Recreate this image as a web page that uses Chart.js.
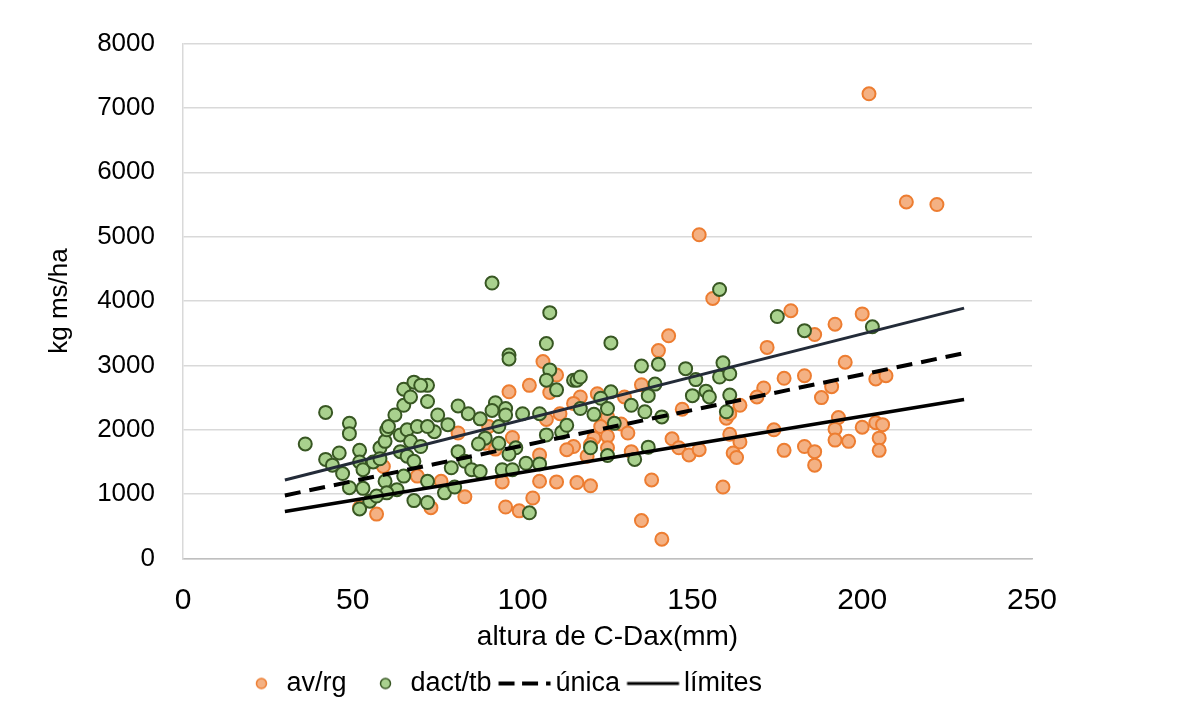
<!DOCTYPE html>
<html><head><meta charset="utf-8">
<script src="https://cdn.jsdelivr.net/npm/chart.js@4/dist/chart.umd.min.js"></script>
<style>html,body{margin:0;padding:0;background:#fff;}#wrap{width:1177px;height:719px;}</style>
</head><body><div id="wrap"><canvas id="c" width="1177" height="719"></canvas></div>
<script>
// av/rg series
const avX = [202,213,222,152,156,179,200,192,186,143,140,172,195,106,110,102,96,108,135,177,183,204,207,171,191,188,169,164,117,122,130,115,147,125,123,129,131,121,125,120,115,113,125,132,144,146,149,152,119,116,120,138,135,141,160,174,193,192,192,196,161,164,162,163,177,183,186,186,159,161,200,204,206,205,205,107,111,97,89,81,105,105,110,94,83,95,99,103,73,76,59,57,69,52,90,92];
const avY = [7220,5540,5500,5030,4040,3850,3800,3640,3480,3460,3230,3280,3050,3060,2850,2690,2590,2580,2700,2800,2840,2790,2840,2650,2670,2500,2510,2380,2510,2560,2510,2410,2320,2200,2050,2090,1950,1870,1900,1770,1740,1690,1720,1660,1860,1720,1610,1690,1590,1180,1130,1220,590,300,2180,2000,2190,2010,1840,1820,1930,1810,1640,1570,1680,1740,1660,1450,1110,2250,2040,2110,2080,1870,1680,2160,2250,1880,1790,1950,1610,1200,1190,1190,960,800,740,940,790,1200,1430,690,1280,790,2050,1700];
// dact/tb series
const dtX = [91,108,107,96,96,108,107,110,115,72,72,81,92,84,91,95,95,87.5,100,105,75,78,74,93,89,87,93,107,111.5,113,98,96,81,79,83,85,87.5,101,105,94,97,72,77,80,72,102,42,36,49,49,46,42,44,52,52,53,47,49,53,52,55,56,58,59.5,60,60.5,62.4,65,65,68,70,67,64,66,69,72,67,70,64,66,68,58,59.5,65,63,60,57,68,126,135,140,148,116,117,151,139,126,137,150,154,123,117,125,132,136,121,141,127,120,125,133,137,158,175,183,159,158,161,155,161,160,203];
const dtY = [4280,3820,3340,3160,3100,2930,2770,2620,2770,2690,2440,2370,2420,2250,2300,2330,2230,2170,2250,2250,2230,2080,1970,2050,1870,1780,1790,1920,1960,2070,1720,1620,1660,1410,1510,1380,1350,1480,1470,1380,1380,1200,1020,1110,870,710,2270,1780,2100,1940,1640,1540,1450,1680,1500,1380,1320,1100,1090,770,890,1500,1720,1820,2000,2050,2230,2380,2630,2740,2690,2510,1920,2000,2050,2050,1820,1740,1660,1590,1510,1550,1200,1280,1070,1020,970,900,3350,2990,3020,2950,2770,2820,2780,2710,2590,2530,2530,2600,2490,2330,2330,2380,2280,2240,2200,2100,1720,1600,1540,1730,4180,3760,3540,3040,2820,2870,2510,2540,2280,3600];
// lines
const unicaX = [30, 230];
const unicaY = [980, 3190];
const limSupX = [30, 230];
const limSupY = [1220, 3890];
const limInfX = [30, 230];
const limInfY = [730, 2470];
// axes
const xTicks = [0, 50, 100, 150, 200, 250];
const yTicks = [0, 1000, 2000, 3000, 4000, 5000, 6000, 7000, 8000];
const seriesNames = ['av/rg', 'dact/tb', 'única', 'límites'];
const xTitle = 'altura de C-Dax(mm)';
const yTitle = 'kg ms/ha';

const pts = (xs, ys) => xs.map((x, i) => ({x: x, y: ys[i]}));

function legendImg(kind) {
  const c = document.createElement('canvas');
  c.width = 80; c.height = 24;
  const g = c.getContext('2d');
  if (kind === 'av' || kind === 'dt') {
    g.beginPath();
    g.arc(48.5, 12, 5, 0, Math.PI * 2);
    g.fillStyle = kind === 'av' ? '#F4B183' : '#A9D18E';
    g.strokeStyle = kind === 'av' ? '#ED7D31' : '#385723';
    g.lineWidth = 1.5;
    g.fill(); g.stroke();
  } else if (kind === 'un') {
    g.strokeStyle = '#000'; g.lineWidth = 4; g.lineCap = 'butt';
    [[16.5, 32.5], [40, 56], [64, 68.5]].forEach(s => { g.beginPath(); g.moveTo(s[0], 12); g.lineTo(s[1], 12); g.stroke(); });
  } else {
    g.strokeStyle = '#000'; g.lineWidth = 3;
    g.beginPath(); g.moveTo(16.5, 12); g.lineTo(68.5, 12); g.stroke();
  }
  return c;
}
const legImgs = [legendImg('av'), legendImg('dt'), legendImg('un'), legendImg('lim')];

Chart.defaults.font.family = "'Liberation Sans', Arial, sans-serif";
Chart.defaults.color = '#000';

const legendShift = {
  id: 'legendShift',
  afterLayout(chart) { if (chart.legend) { chart.legend.right -= 37; } }
};

new Chart(document.getElementById('c'), {
  type: 'scatter',
  data: {
    datasets: [
      {label: seriesNames[0], data: pts(avX, avY), backgroundColor: '#F4B183', borderColor: '#ED7D31', borderWidth: 2, pointRadius: 6.5, order: 4},
      {label: seriesNames[1], data: pts(dtX, dtY), backgroundColor: '#A9D18E', borderColor: '#385723', borderWidth: 2, pointRadius: 6.5, order: 3},
      {label: seriesNames[2], data: pts(unicaX, unicaY), showLine: true, borderColor: '#000', borderWidth: 4, borderDash: [16, 9], pointRadius: 0, order: 0},
      {label: seriesNames[3], data: pts(limSupX, limSupY), showLine: true, borderColor: '#232B38', borderWidth: 3, pointRadius: 0, order: 1},
      {label: seriesNames[3] + ' inf', data: pts(limInfX, limInfY), showLine: true, borderColor: '#000', borderWidth: 3.5, pointRadius: 0, order: 1}
    ]
  },
  plugins: [legendShift],
  options: {
    responsive: false,
    animation: false,
    devicePixelRatio: 1,
    layout: {padding: {top: 39, right: 145, bottom: 12, left: 0}},
    plugins: {
      tooltip: {enabled: false},
      legend: {
        position: 'bottom',
        labels: {
          usePointStyle: true,
          pointStyleWidth: 40,
          padding: 10.5,
          font: {size: 27},
          color: '#000',
          generateLabels: () => seriesNames.map((n, i) => ({
            text: n, pointStyle: legImgs[i], datasetIndex: i, hidden: false,
            lineWidth: 0, strokeStyle: 'rgba(0,0,0,0)', fillStyle: 'rgba(0,0,0,0)'
          }))
        }
      }
    },
    scales: {
      x: {
        type: 'linear', min: 0, max: 250,
        afterBuildTicks: s => { s.ticks = xTicks.map(v => ({value: v})); },
        afterFit: s => { s.height = 101; },
        grid: {display: false, drawTicks: false},
        border: {display: true, color: '#BFBFBF', width: 1.5},
        ticks: {font: {size: 30}, color: '#000', padding: 24, maxRotation: 0, callback: v => String(v)},
        title: {display: true, text: xTitle, font: {size: 28}, color: '#000', padding: {top: 0, bottom: 5.2}}
      },
      y: {
        type: 'linear', min: 0, max: 8000,
        afterBuildTicks: s => { s.ticks = yTicks.map(v => ({value: v})); },
        afterFit: s => { s.width = 183; },
        grid: {color: '#D9D9D9', lineWidth: 1.5, drawTicks: false},
        border: {display: true, color: '#D9D9D9', width: 1.5},
        ticks: {font: {size: 26}, color: '#000', padding: 28, callback: v => String(v)},
        title: {display: true, text: yTitle, font: {size: 26}, color: '#000', padding: {top: 44.4, bottom: 0}}
      }
    }
  }
});
</script></body></html>
